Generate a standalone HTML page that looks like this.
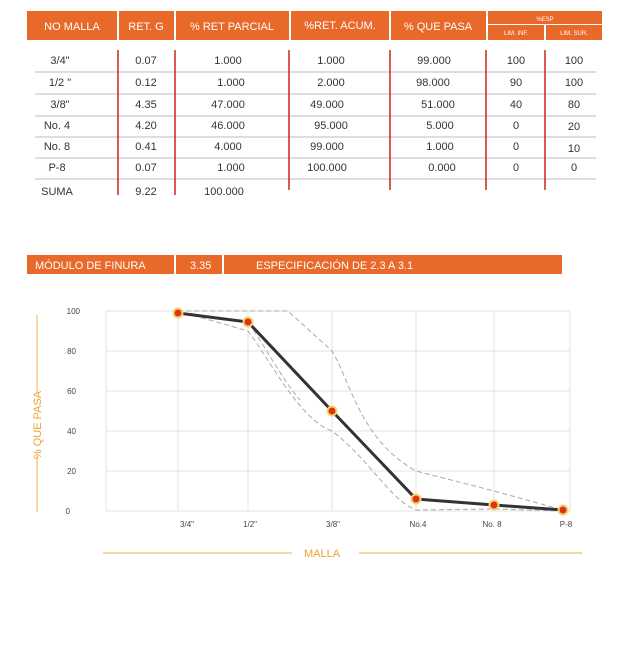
<!DOCTYPE html>
<html><head><meta charset="utf-8"><style>
body{margin:0;background:#fff;width:631px;height:649px;overflow:hidden;font-family:"Liberation Sans",sans-serif;}
svg{display:block}
</style></head><body>
<svg width="631" height="649" viewBox="0 0 631 649" font-family="Liberation Sans, sans-serif">
<!-- table header -->
<g fill="#e8692a">
<rect x="27" y="11" width="90" height="29"/>
<rect x="119" y="11" width="55" height="29"/>
<rect x="176" y="11" width="113" height="29"/>
<rect x="291" y="11" width="98" height="29"/>
<rect x="391" y="11" width="95" height="29"/>
<rect x="488" y="11" width="114" height="13"/>
<rect x="488" y="25" width="56" height="15"/>
<rect x="546" y="25" width="56" height="15"/>
</g>
<g fill="#fff" font-size="11" text-anchor="middle">
<text x="72" y="30">NO MALLA</text>
<text x="146" y="30">RET. G</text>
<text x="232" y="30">% RET PARCIAL</text>
<text x="340" y="29">%RET. ACUM.</text>
<text x="438" y="30">% QUE PASA</text>
<text x="545" y="21" font-size="6">%ESP</text>
<text x="516" y="35" font-size="6">LIM. INF.</text>
<text x="574" y="35" font-size="6">LIM. SUR.</text>
</g>
<g stroke="#d4d4d4" stroke-width="1.5">
<line x1="35" y1="72" x2="596" y2="72"/><line x1="35" y1="94" x2="596" y2="94"/>
<line x1="35" y1="116" x2="596" y2="116"/><line x1="35" y1="137" x2="596" y2="137"/>
<line x1="35" y1="158" x2="596" y2="158"/><line x1="35" y1="179" x2="596" y2="179"/>
</g>
<g stroke="#d0201a" stroke-width="1.5">
<line x1="118" y1="50" x2="118" y2="195"/><line x1="175" y1="50" x2="175" y2="195"/>
<line x1="289" y1="50" x2="289" y2="190"/><line x1="390" y1="50" x2="390" y2="190"/>
<line x1="486" y1="50" x2="486" y2="190"/><line x1="545" y1="50" x2="545" y2="190"/>
</g>
<g fill="#333" font-size="11" text-anchor="middle">
<text x="60" y="64">3/4"</text><text x="146" y="64">0.07</text><text x="228" y="64">1.000</text><text x="331" y="64">1.000</text><text x="434" y="64">99.000</text><text x="516" y="64">100</text><text x="574" y="64">100</text>
<text x="60" y="86">1/2 "</text><text x="146" y="86">0.12</text><text x="231" y="86">1.000</text><text x="331" y="86">2.000</text><text x="433" y="86">98.000</text><text x="516" y="86">90</text><text x="574" y="86">100</text>
<text x="60" y="108">3/8"</text><text x="146" y="108">4.35</text><text x="228" y="108">47.000</text><text x="327" y="108">49.000</text><text x="438" y="108">51.000</text><text x="516" y="108">40</text><text x="574" y="108">80</text>
<text x="57" y="129">No. 4</text><text x="146" y="129">4.20</text><text x="228" y="129">46.000</text><text x="331" y="129">95.000</text><text x="440" y="129">5.000</text><text x="516" y="129">0</text><text x="574" y="130">20</text>
<text x="57" y="150">No. 8</text><text x="146" y="150">0.41</text><text x="228" y="150">4.000</text><text x="327" y="150">99.000</text><text x="440" y="150">1.000</text><text x="516" y="150">0</text><text x="574" y="152">10</text>
<text x="57" y="171">P-8</text><text x="146" y="171">0.07</text><text x="231" y="171">1.000</text><text x="327" y="171">100.000</text><text x="442" y="171">0.000</text><text x="516" y="171">0</text><text x="574" y="171">0</text>
<text x="57" y="195">SUMA</text><text x="146" y="195">9.22</text><text x="224" y="195">100.000</text>
</g>
<!-- band -->
<g fill="#e8692a">
<rect x="27" y="255" width="147" height="19"/><rect x="176" y="255" width="46" height="19"/><rect x="224" y="255" width="338" height="19"/>
</g>
<g fill="#fff" font-size="11">
<text x="35" y="269">MÓDULO DE FINURA</text><text x="190" y="269">3.35</text><text x="256" y="269">ESPECIFICACIÓN DE 2.3 A 3.1</text>
</g>
<!-- chart grid -->
<g stroke="#e3e3e3" stroke-width="1">
<line x1="106" y1="311" x2="570" y2="311"/><line x1="106" y1="351" x2="570" y2="351"/>
<line x1="106" y1="391" x2="570" y2="391"/><line x1="106" y1="431" x2="570" y2="431"/>
<line x1="106" y1="471" x2="570" y2="471"/><line x1="106" y1="511" x2="570" y2="511"/>
<line x1="106" y1="311" x2="106" y2="511"/><line x1="178" y1="311" x2="178" y2="511"/>
<line x1="248" y1="311" x2="248" y2="511"/><line x1="332" y1="311" x2="332" y2="511"/>
<line x1="416" y1="311" x2="416" y2="511"/><line x1="494" y1="311" x2="494" y2="511"/>
<line x1="570" y1="311" x2="570" y2="511"/>
</g>
<g fill="#444" font-size="8" text-anchor="end">
<text x="80" y="314">100</text><text x="76" y="354">80</text><text x="76" y="394">60</text><text x="76" y="434">40</text><text x="76" y="474">20</text><text x="70" y="514">0</text>
</g>
<g fill="#444" font-size="8" text-anchor="middle">
<text x="187" y="527">3/4"</text><text x="250" y="527">1/2"</text><text x="333" y="527">3/8"</text><text x="418" y="527">No.4</text><text x="492" y="527">No. 8</text><text x="566" y="527">P-8</text>
</g>
<g fill="none" stroke="#aaa" stroke-width="1" stroke-dasharray="5,3">
<path d="M178 311 L288 311 L332 351 C350 380 360 440 416 471 L494 491 L563 510"/>
<path d="M178 311 L248 331 C270 360 300 420 332 431 C370 460 390 500 416 510 L494 509 L563 511"/>
<path d="M178 313 L248 323 C262 340 282 380 300 400"/>
</g>
<polyline points="178,313 248,322 332,411 416,499 494,505 563,510" fill="none" stroke="#333" stroke-width="3"/>
<g fill="#d9341c" stroke="#f7d36a" stroke-width="2">
<circle cx="178" cy="313" r="4.5"/><circle cx="248" cy="322" r="4.5"/><circle cx="332" cy="411" r="4.5"/>
<circle cx="416" cy="499" r="4.5"/><circle cx="494" cy="505" r="4.5"/><circle cx="563" cy="510" r="4.5"/>
</g>
<!-- axis titles -->
<g stroke="#f0c070" stroke-width="1.2">
<line x1="37" y1="315" x2="37" y2="393"/><line x1="37" y1="457" x2="37" y2="512"/>
<line x1="103" y1="553" x2="292" y2="553"/><line x1="359" y1="553" x2="582" y2="553"/>
</g>
<text x="322" y="557" fill="#f0a030" font-size="11" text-anchor="middle">MALLA</text>
<text transform="translate(41,425) rotate(-90)" fill="#f0a030" font-size="11" text-anchor="middle">% QUE PASA</text>
</svg>
</body></html>
